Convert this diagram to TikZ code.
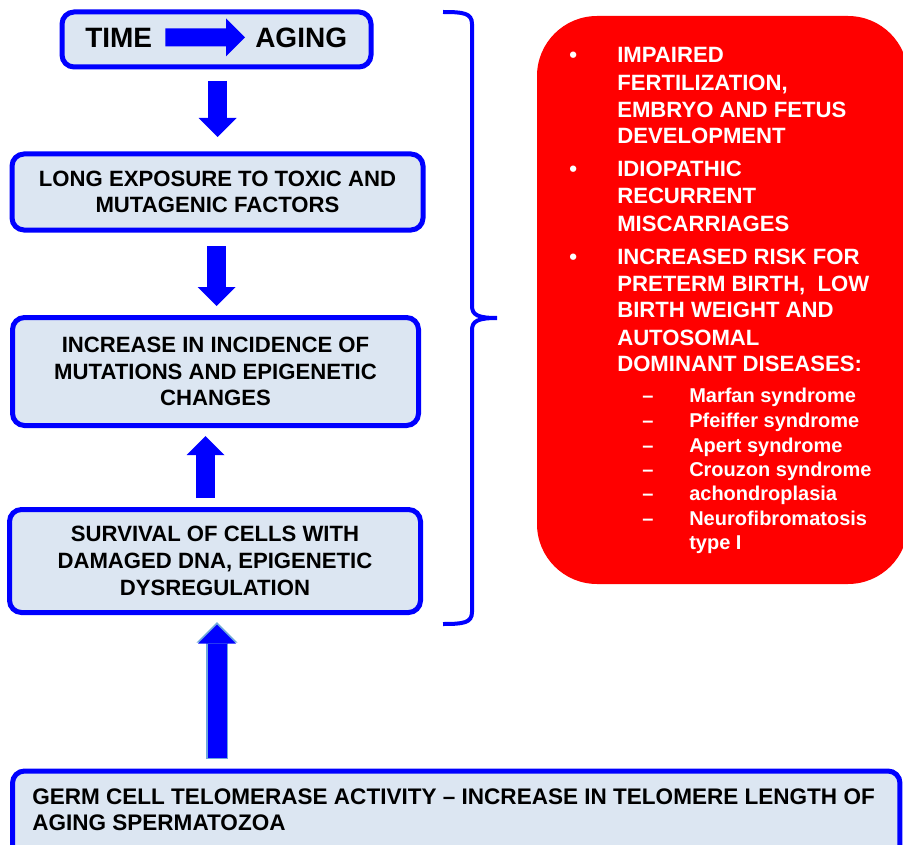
\documentclass[tikz,border=0pt]{standalone}
\usepackage{fontspec}
\setmainfont{Liberation Sans}
\usetikzlibrary{arrows.meta,calc}
\definecolor{bblue}{HTML}{0000FF}
\definecolor{boxfill}{HTML}{DCE6F2}
\definecolor{rred}{HTML}{FF0000}
\definecolor{edgeblue}{HTML}{6FA8DC}
\begin{document}
\begin{tikzpicture}[x=0.75pt,y=-0.75pt,
  box/.style={draw=bblue, fill=boxfill, line width=3.75pt, rounded corners=9pt,
    align=center, inner sep=0pt, font=\fontsize{16.6}{20}\selectfont\bfseries},
  fat/.style={draw=bblue, line width=14.25pt,
    -{Triangle[width=28.5pt,length=14.25pt,line width=0pt]}},
  fatedge/.style={draw=edgeblue, line width=16pt,
    -{Triangle[width=31pt,length=15.5pt,line width=0pt]}},
  bigtxt/.style={anchor=base west, inner sep=0pt, font=\fontsize{21}{25}\selectfont\bfseries},
  redtxt/.style={anchor=base west, inner sep=0pt, text=white, font=\fontsize{16.6}{20}\selectfont\bfseries},
  subtxt/.style={anchor=base west, inner sep=0pt, text=white, font=\fontsize{15}{18}\selectfont\bfseries},
  bottxt/.style={anchor=base west, inner sep=0pt, font=\fontsize{16.9}{20}\selectfont\bfseries},
  brace/.style={draw=bblue, line width=3pt}]
\useasboundingbox (0,0) rectangle (903,845);
\clip (0,0) rectangle (903,845);
\fill[white] (0,0) rectangle (903,845);

% left boxes
\node[box, minimum width=231.75pt, minimum height=41.25pt] (b1) at (216.5,39.5) {};
\node[box, minimum width=308.25pt, minimum height=57pt] (b2) at (217.5,192)
  {LONG EXPOSURE TO TOXIC AND\\MUTAGENIC FACTORS};
\node[box, minimum width=304.5pt, minimum height=81pt] (b3) at (215.5,371.5)
  {INCREASE IN INCIDENCE OF\\MUTATIONS AND EPIGENETIC\\CHANGES};
\node[box, minimum width=308.25pt, minimum height=77.25pt] (b4) at (215,561)
  {SURVIVAL OF CELLS WITH\\DAMAGED DNA, EPIGENETIC\\DYSREGULATION};
\node[box, minimum width=665.6pt, minimum height=81.75pt] (b5) at (456.25,825.5) {};
\node[bottxt] (g1) at (32,804) {GERM CELL TELOMERASE ACTIVITY -- INCREASE IN TELOMERE LENGTH OF};
\node[bottxt] (g2) at (32,830) {AGING SPERMATOZOA};

% time -> aging
\node[bigtxt] (time) at (85,48) {TIME};
\node[bigtxt] (aging) at (255,48) {AGING};
\draw[fat, line width=13.5pt] ($(time.east)+(13,-1)$) -- ($(aging.west)+(-10,-1)$);

% vertical block arrows
\draw[fat] ($(b1.south)+(1,11.5)$) -- ($(b2.north)+(0,-14.5)$);
\draw[fat] ($(b2.south)+(-1,13.5)$) -- ($(b3.north)+(1,-9)$);
\draw[fat] ($(b4.north)+(-9.5,-9)$) -- ($(b3.south)+(-10,8)$);
\draw[fatedge] ($(b4.south)+(2,144)$) -- ($(b4.south)+(2,7)$);
\draw[fat] ($(b4.south)+(2,142.5)$) -- ($(b4.south)+(2,9.5)$);

% brace
\coordinate (bt) at (443,12);
\coordinate (bm) at (497,318);
\coordinate (bb) at (443,624);
\draw[brace] (bt) .. controls (463,12) and (472,13) .. (472,24) -- (472,306)
  .. controls (472,315) and (478,318) .. (bm)
  .. controls (478,318) and (472,321) .. (472,330) -- (472,612)
  .. controls (472,623) and (463,624) .. (bb);

% red box
\node[fill=rred, rounded corners=45pt, minimum width=278.25pt, minimum height=426pt, inner sep=0pt]
  (red) at (722.5,300) {};

\node[redtxt] (u1) at (569,63) {•};
\node[redtxt] (u2) at (569,176.7) {•};
\node[redtxt] (u3) at (569,264.3) {•};

\foreach \t/\y [count=\i] in {IMPAIRED/63, {FERTILIZATION,}/90.7, EMBRYO AND FETUS/117.3,
  DEVELOPMENT/144, IDIOPATHIC/176.7, RECURRENT/204, MISCARRIAGES/231,
  INCREASED RISK FOR/264.3, {PRETERM BIRTH,\ \ LOW}/291, BIRTH WEIGHT AND/317.7,
  AUTOSOMAL/345, DOMINANT DISEASES:/371.7}
  \node[redtxt] (t\i) at (617,\y) {\t};

\foreach \t/\y [count=\i] in {Marfan syndrome/402.7, Pfeiffer syndrome/427.7,
  Apert syndrome/452, Crouzon syndrome/476, achondroplasia/500.7,
  Neurofibromatosis/525}
  {\node[subtxt] (d\i) at (642,\y) {--};
   \node[subtxt] (s\i) at (689,\y) {\t};}
\node[subtxt] (s7) at (689,549.3) {type I};
\end{tikzpicture}
\end{document}
